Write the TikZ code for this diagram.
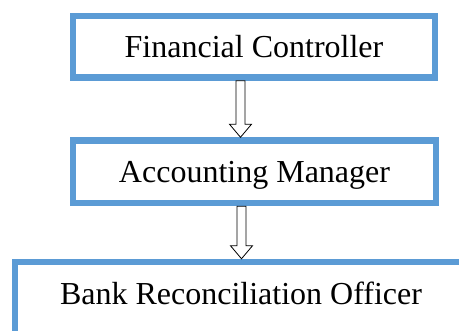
\documentclass[tikz,border=0pt]{standalone}
\usepackage{fontspec}
\setmainfont{Liberation Serif}
\usepackage{tikz}
\usetikzlibrary{calc}

\definecolor{boxblue}{RGB}{91,155,213}

\tikzset{
  rolebox/.style={draw=boxblue, line width=6.5pt, rectangle, inner sep=0pt,
    text height=21.5pt, text depth=0pt,
    font=\fontsize{32}{38}\selectfont},
  hollowarrow/.style={draw=black, line width=0.8pt, fill=white}
}

% hollow down arrow from #1 to #2
\newcommand{\downarrowbox}[2]{%
  \draw[hollowarrow] let \p1=(#1), \p2=(#2) in
    (\x1-4.5pt,\y1) -- (\x1+4.5pt,\y1) -- (\x1+4.5pt,\y2+13pt) -- (\x1+11pt,\y2+13pt)
    -- (\x1,\y2) -- (\x1-11pt,\y2+13pt) -- (\x1-4.5pt,\y2+13pt) -- cycle;}

\begin{document}
\begin{tikzpicture}[x=1pt,y=-1pt]
  \useasboundingbox (0,0) rectangle (459,331);

  \node(fc) [rolebox, minimum width=362pt, minimum height=61.5pt] at (254,46.75) {Financial Controller};
  \node(am) [rolebox, minimum width=363pt, minimum height=62.5pt] at (254.5,171.75) {Accounting Manager};
  \node(bro) [rolebox, minimum width=452pt, minimum height=72pt, text depth=8pt] at (241,298) {Bank Reconciliation Officer};

  \coordinate (a1) at (240.5,0);
  \coordinate (a2) at (241.5,0);
  \downarrowbox{fc.south -| a1}{am.north -| a1}
  \downarrowbox{am.south -| a2}{bro.north -| a2}

\end{tikzpicture}
\end{document}
